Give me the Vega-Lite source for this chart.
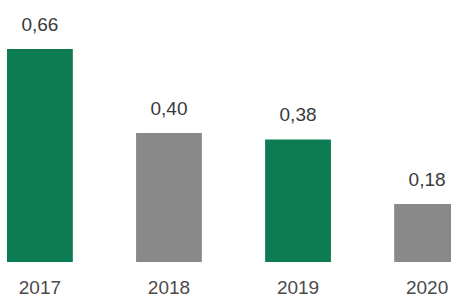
{
  "$schema": "https://vega.github.io/schema/vega-lite/v6.json",
  "width": 453,
  "height": 262,
  "padding": {"left": 7, "top": 0, "right": 0, "bottom": 36},
  "autosize": {"type": "none"},
  "background": "#ffffff",
  "config": {
    "view": {"stroke": null},
    "locale": {"number": {"decimal": ",", "thousands": ".", "grouping": [3], "currency": ["", " €"]}}
  },
  "data": {"values": [
    {"year": "2017", "value": 0.66},
    {"year": "2018", "value": 0.40},
    {"year": "2019", "value": 0.38},
    {"year": "2020", "value": 0.18}
  ]},
  "encoding": {
    "x": {"field": "year", "type": "nominal", "sort": null,
      "scale": {"paddingInner": 0.49, "paddingOuter": 0},
      "axis": {"title": null, "domain": false, "ticks": false, "labelAngle": 0, "labelPadding": 25,
        "labelFont": "Liberation Sans", "labelFontSize": 19, "labelColor": "#4a4a4a", "labelBaseline": "middle"}},
    "y": {"field": "value", "type": "quantitative",
      "scale": {"domain": [0, 0.812], "nice": false, "zero": true},
      "axis": null}
  },
  "layer": [
    {"mark": {"type": "bar"},
     "encoding": {"color": {"field": "year", "type": "nominal", "sort": null,
       "scale": {"range": ["#0d7c52", "#898989", "#0d7c52", "#898989"]}, "legend": null}}},
    {"mark": {"type": "text", "dy": -24, "font": "Liberation Sans", "fontSize": 19, "color": "#3a3a3a", "baseline": "middle"},
     "encoding": {"text": {"field": "value", "type": "quantitative", "format": ".2f"}}}
  ]
}
